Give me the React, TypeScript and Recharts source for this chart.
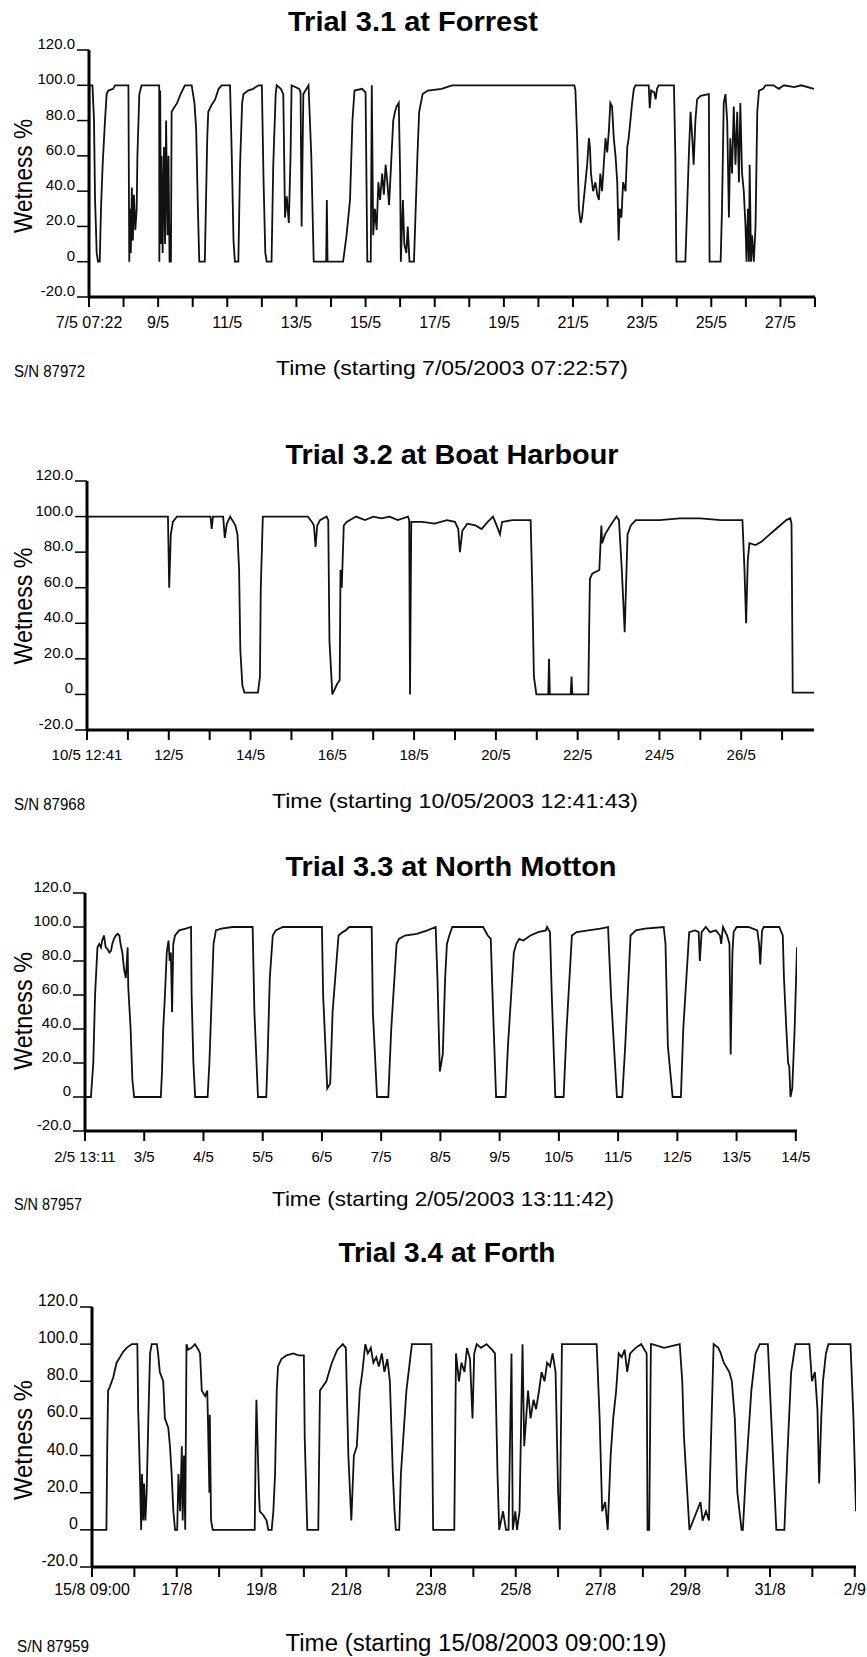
import { LineChart, Line, XAxis, YAxis } from "recharts";

// wetness readings: [days since start, wetness %]
const forrest: [number, number][] = [
  [0, 100], [0.005, 15], [0.012, 100], [0.1, 100], [0.145, 80], [0.175, 35], [0.2, 20], [0.222, 5],
  [0.26, 0], [0.31, 0], [0.347, 30], [0.395, 55], [0.463, 80], [0.51, 95], [0.56, 97], [0.7, 98],
  [0.75, 100], [1.14, 100], [1.165, 0], [1.19, 30], [1.21, 5], [1.24, 42], [1.27, 12], [1.3, 38],
  [1.34, 18], [1.38, 30], [1.4, 60], [1.456, 95], [1.52, 100], [2.03, 100], [2.035, 0], [2.06, 97],
  [2.08, 10], [2.1, 60], [2.13, 5], [2.17, 65], [2.2, 10], [2.23, 80], [2.27, 15], [2.3, 60],
  [2.33, 0], [2.37, 0], [2.39, 85], [2.45, 87], [2.55, 90], [2.65, 95], [2.75, 99], [2.78, 100],
  [2.97, 100], [3.05, 90], [3.1, 75], [3.15, 30], [3.19, 0], [3.35, 0], [3.42, 70], [3.45, 85],
  [3.55, 89], [3.65, 92], [3.75, 98], [3.84, 100], [4.08, 100], [4.13, 60], [4.18, 12], [4.22, 0],
  [4.32, 0], [4.37, 55], [4.43, 90], [4.47, 95], [4.6, 97], [4.75, 98], [4.9, 100], [5.0, 100],
  [5.05, 45], [5.1, 5], [5.14, 0], [5.28, 0], [5.33, 55], [5.4, 95], [5.43, 100], [5.55, 98],
  [5.62, 95], [5.67, 25], [5.72, 37], [5.78, 22], [5.83, 60], [5.86, 100], [6.08, 98], [6.12, 96],
  [6.15, 20], [6.2, 95], [6.35, 100], [6.43, 60], [6.5, 0], [6.86, 0], [6.88, 35], [6.9, 0],
  [7.35, 0], [7.45, 15], [7.55, 35], [7.62, 80], [7.68, 97], [7.9, 98], [8.0, 96], [8.05, 0],
  [8.15, 0], [8.18, 100], [8.22, 15], [8.27, 30], [8.32, 18], [8.37, 45], [8.42, 35], [8.48, 50],
  [8.53, 38], [8.58, 55], [8.63, 45], [8.68, 32], [8.75, 60], [8.8, 80], [8.85, 85], [8.9, 88],
  [8.96, 90], [9.0, 50], [9.02, 0], [9.08, 35], [9.12, 10], [9.18, 5], [9.22, 20], [9.27, 0],
  [9.4, 0], [9.45, 30], [9.5, 60], [9.55, 85], [9.65, 95], [9.8, 97], [10.2, 98], [10.5, 100],
  [14.04, 100], [14.07, 97], [14.12, 70], [14.17, 30], [14.22, 22], [14.26, 25], [14.31, 35],
  [14.36, 45], [14.41, 55], [14.46, 70], [14.49, 65], [14.52, 50], [14.58, 40], [14.65, 45],
  [14.7, 38], [14.75, 35], [14.79, 50], [14.84, 40], [14.89, 55], [14.94, 70], [14.99, 62],
  [15.04, 75], [15.08, 90], [15.13, 88], [15.18, 70], [15.23, 60], [15.28, 45], [15.32, 12],
  [15.35, 30], [15.4, 25], [15.45, 45], [15.52, 40], [15.57, 65], [15.61, 70], [15.66, 80],
  [15.71, 90], [15.76, 98], [15.81, 100], [16.19, 100], [16.22, 87], [16.26, 97], [16.35, 96],
  [16.39, 92], [16.43, 98], [16.48, 100], [16.92, 100], [16.96, 60], [16.99, 0], [17.25, 0],
  [17.3, 30], [17.35, 60], [17.4, 85], [17.45, 70], [17.49, 55], [17.54, 80], [17.59, 92],
  [17.69, 94], [17.93, 95], [17.95, 0], [18.27, 0], [18.31, 30], [18.36, 90], [18.41, 95],
  [18.46, 80], [18.51, 25], [18.55, 70], [18.6, 50], [18.65, 88], [18.7, 55], [18.75, 85],
  [18.8, 45], [18.84, 90], [18.89, 50], [18.94, 40], [18.99, 20], [19.02, 0], [19.06, 30],
  [19.09, 0], [19.11, 55], [19.15, 0], [19.18, 15], [19.23, 0], [19.28, 20], [19.33, 85],
  [19.38, 97], [19.5, 98], [19.57, 100], [19.8, 100], [19.95, 98], [20.1, 100], [20.4, 99],
  [20.6, 100], [20.97, 98],
];

const boatHarbour: [number, number][] = [
  [0, 0], [0.01, 100], [1.98, 100], [2.01, 60], [2.05, 90], [2.1, 97], [2.2, 100], [3.02, 100],
  [3.05, 93], [3.08, 100], [3.33, 100], [3.37, 88], [3.42, 96], [3.5, 100], [3.58, 97], [3.63, 95],
  [3.68, 90], [3.72, 70], [3.75, 25], [3.8, 5], [3.85, 1], [4.18, 1], [4.23, 10], [4.25, 60],
  [4.3, 100], [5.4, 100], [5.5, 97], [5.55, 95], [5.59, 83], [5.63, 95], [5.7, 98], [5.86, 100],
  [5.9, 98], [5.93, 30], [6.0, 0], [6.06, 3], [6.12, 6], [6.18, 8], [6.2, 70], [6.23, 60],
  [6.28, 95], [6.35, 97], [6.58, 100], [6.8, 98], [7.0, 100], [7.2, 99], [7.4, 100], [7.6, 98],
  [7.85, 100], [7.88, 98], [7.9, 0], [7.93, 97], [8.2, 97], [8.5, 96], [8.8, 98], [9.0, 97],
  [9.08, 93], [9.12, 80], [9.18, 92], [9.3, 96], [9.5, 95], [9.65, 93], [9.8, 97], [9.93, 100],
  [10.0, 96], [10.1, 90], [10.15, 97], [10.4, 98], [10.85, 98], [10.89, 60], [10.93, 10],
  [10.99, 0], [11.28, 0], [11.3, 20], [11.32, 0], [11.83, 0], [11.85, 10], [11.87, 0], [12.26, 0],
  [12.28, 35], [12.3, 65], [12.36, 68], [12.53, 70], [12.58, 95], [12.6, 85], [12.67, 90],
  [12.8, 95], [12.95, 100], [13.01, 98], [13.08, 70], [13.15, 35], [13.22, 90], [13.3, 95],
  [13.42, 98], [14.0, 98], [14.5, 99], [15.0, 99], [15.5, 98], [16.03, 98], [16.08, 70],
  [16.12, 40], [16.16, 75], [16.2, 85], [16.35, 84], [16.5, 86], [16.65, 89], [16.8, 92],
  [16.95, 95], [17.1, 98], [17.2, 99], [17.23, 96], [17.26, 1], [17.78, 1],
];

const northMotton: [number, number][] = [
  [0, 0], [0.1, 0], [0.12, 10], [0.14, 20], [0.17, 60], [0.21, 88], [0.24, 90], [0.27, 88],
  [0.29, 92], [0.32, 95], [0.35, 88], [0.38, 87], [0.41, 85], [0.44, 86], [0.46, 90], [0.49, 93],
  [0.52, 95], [0.55, 96], [0.58, 95], [0.6, 90], [0.63, 85], [0.66, 75], [0.69, 70], [0.72, 88],
  [0.73, 65], [0.77, 40], [0.8, 10], [0.83, 0], [1.28, 0], [1.3, 15], [1.32, 40], [1.35, 60],
  [1.38, 85], [1.41, 92], [1.43, 80], [1.45, 85], [1.47, 50], [1.49, 90], [1.52, 95], [1.59, 98],
  [1.7, 99], [1.79, 100], [1.8, 60], [1.83, 20], [1.86, 0], [2.07, 0], [2.1, 20], [2.14, 60],
  [2.17, 90], [2.21, 98], [2.3, 99], [2.49, 100], [2.83, 100], [2.86, 50], [2.92, 0], [3.06, 0],
  [3.08, 20], [3.12, 70], [3.17, 95], [3.22, 98], [3.34, 100], [4.0, 100], [4.02, 60], [4.09, 5],
  [4.14, 8], [4.18, 50], [4.28, 95], [4.35, 97], [4.4, 98], [4.46, 100], [4.84, 100], [4.86, 50],
  [4.93, 0], [5.12, 0], [5.17, 40], [5.26, 90], [5.3, 93], [5.4, 95], [5.6, 96], [5.78, 98],
  [5.92, 100], [5.95, 70], [5.99, 15], [6.04, 25], [6.08, 70], [6.11, 90], [6.15, 95], [6.2, 100],
  [6.72, 100], [6.8, 95], [6.85, 93], [6.88, 60], [6.94, 0], [7.1, 0], [7.14, 30], [7.24, 85],
  [7.28, 90], [7.33, 93], [7.4, 92], [7.52, 95], [7.65, 97], [7.78, 98], [7.8, 100], [7.85, 97],
  [7.88, 60], [7.94, 0], [8.08, 0], [8.13, 40], [8.22, 95], [8.3, 97], [8.5, 98], [8.7, 99],
  [8.83, 100], [8.88, 60], [8.98, 0], [9.07, 0], [9.12, 30], [9.21, 95], [9.3, 98], [9.45, 99],
  [9.77, 100], [9.8, 90], [9.84, 30], [9.92, 0], [10.06, 0], [10.1, 40], [10.2, 97], [10.3, 98],
  [10.36, 97], [10.38, 80], [10.41, 97], [10.48, 100], [10.55, 97], [10.65, 98], [10.72, 95],
  [10.74, 90], [10.77, 100], [10.84, 95], [10.88, 90], [10.9, 25], [10.93, 85], [10.95, 97],
  [11.0, 100], [11.2, 100], [11.35, 98], [11.38, 90], [11.4, 78], [11.43, 98], [11.46, 100],
  [11.72, 100], [11.78, 95], [11.8, 70], [11.84, 40], [11.87, 20], [11.89, 18], [11.91, 0],
  [11.94, 5], [11.98, 40], [12.02, 88],
];

const forth: [number, number][] = [
  [0, 0], [0.34, 0], [0.36, 45], [0.38, 75], [0.42, 77], [0.5, 82], [0.58, 90], [0.66, 93],
  [0.74, 96], [0.82, 98], [0.94, 100], [1.07, 100], [1.09, 65], [1.13, 30], [1.16, 0], [1.18, 30],
  [1.21, 5], [1.23, 25], [1.26, 5], [1.29, 20], [1.33, 60], [1.37, 95], [1.41, 100], [1.53, 100],
  [1.56, 95], [1.6, 85], [1.68, 80], [1.72, 60], [1.8, 55], [1.84, 45], [1.88, 30], [1.92, 10],
  [1.96, 0], [2.01, 0], [2.04, 30], [2.08, 10], [2.12, 45], [2.14, 5], [2.17, 40], [2.2, 0],
  [2.23, 100], [2.27, 97], [2.35, 98], [2.43, 100], [2.51, 97], [2.55, 95], [2.59, 75], [2.67, 72],
  [2.72, 75], [2.74, 55], [2.77, 20], [2.78, 62], [2.81, 5], [2.85, 0], [3.84, 0], [3.86, 40],
  [3.88, 70], [3.91, 45], [3.94, 20], [3.96, 10], [4.04, 8], [4.12, 5], [4.16, 0], [4.24, 0],
  [4.28, 10], [4.32, 30], [4.36, 75], [4.39, 88], [4.47, 92], [4.59, 94], [4.75, 95], [4.87, 94],
  [5.0, 94], [5.02, 50], [5.08, 0], [5.34, 0], [5.38, 75], [5.53, 80], [5.66, 90], [5.79, 97],
  [5.92, 100], [5.99, 98], [6.05, 40], [6.12, 5], [6.18, 40], [6.25, 45], [6.32, 75], [6.38, 85],
  [6.45, 100], [6.51, 95], [6.58, 98], [6.64, 90], [6.71, 93], [6.77, 88], [6.84, 95], [6.9, 85],
  [6.97, 92], [7.03, 80], [7.1, 30], [7.14, 10], [7.17, 0], [7.25, 0], [7.29, 30], [7.42, 75],
  [7.55, 100], [8.01, 100], [8.05, 0], [8.55, 0], [8.59, 95], [8.66, 80], [8.72, 90], [8.79, 85],
  [8.85, 98], [8.92, 92], [8.98, 60], [9.02, 95], [9.08, 100], [9.18, 98], [9.31, 100], [9.44, 97],
  [9.51, 95], [9.57, 30], [9.61, 0], [9.7, 10], [9.77, 0], [9.83, 0], [9.9, 95], [9.93, 0],
  [9.99, 10], [10.03, 0], [10.09, 10], [10.16, 100], [10.2, 45], [10.29, 75], [10.35, 60],
  [10.42, 70], [10.48, 65], [10.55, 75], [10.61, 85], [10.68, 80], [10.74, 90], [10.81, 88],
  [10.87, 95], [10.94, 85], [11.0, 20], [11.04, 0], [11.09, 100], [11.13, 100], [11.91, 100],
  [11.98, 60], [12.04, 10], [12.11, 15], [12.17, 0], [12.24, 40], [12.3, 60], [12.37, 75],
  [12.43, 95], [12.5, 93], [12.57, 97], [12.63, 85], [12.7, 95], [12.83, 98], [12.96, 100],
  [13.09, 95], [13.11, 0], [13.15, 0], [13.19, 100], [13.22, 100], [13.5, 98], [13.87, 100],
  [13.93, 80], [13.97, 50], [14.1, 0], [14.36, 15], [14.41, 5], [14.49, 10], [14.56, 5],
  [14.61, 50], [14.67, 100], [14.78, 98], [14.84, 95], [14.91, 90], [15.04, 85], [15.1, 80],
  [15.17, 60], [15.23, 20], [15.33, 0], [15.36, 0], [15.43, 30], [15.56, 75], [15.66, 95],
  [15.76, 100], [15.95, 100], [16.05, 50], [16.15, 0], [16.34, 0], [16.41, 40], [16.5, 85],
  [16.6, 100], [16.93, 100], [16.99, 80], [17.06, 85], [17.12, 65], [17.16, 25], [17.21, 60],
  [17.25, 80], [17.32, 95], [17.38, 100], [17.9, 100], [17.97, 60], [18.03, 10],
];

// one label per daily tick, "" where the tick is unlabelled
const forrestLabels = ["7/5 07:22", "", "9/5", "", "11/5", "", "13/5", "", "15/5", "", "17/5", "",
  "19/5", "", "21/5", "", "23/5", "", "25/5", "", "27/5", ""];
const boatLabels = ["10/5 12:41", "", "12/5", "", "14/5", "", "16/5", "", "18/5", "", "20/5", "",
  "22/5", "", "24/5", "", "26/5", ""];
const mottonLabels = ["2/5 13:11", "3/5", "4/5", "5/5", "6/5", "7/5", "8/5", "9/5", "10/5",
  "11/5", "12/5", "13/5", "14/5"];
const forthLabels = ["15/8 09:00", "", "17/8", "", "19/8", "", "21/8", "", "23/8", "", "25/8", "",
  "27/8", "", "29/8", "", "31/8", "", "2/9"];

const yTicks = [-20, 0, 20, 40, 60, 80, 100, 120];

const FONT = "'Liberation Sans', Arial, Helvetica, sans-serif";
const PAD_TOP = 25;

const panels = [
  {
    data: forrest, labels: forrestLabels, xMax: 21, left: 89, right: 815, top: 50, bottom: 297,
    tickFont: 16, yFont: 15, labelDy: 20.5,
    title: "Trial 3.1 at Forrest", titleX: 413, titleY: 31, titleLen: 250,
    sn: "S/N 87972", snX: 14, snY: 377, snLen: 71,
    time: "Time (starting 7/05/2003 07:22:57)", timeX: 452, timeY: 375, timeLen: 352, timeFont: 21,
    wetY: 176, wetLen: 114,
  },
  {
    data: boatHarbour, labels: boatLabels, xMax: 17.78, left: 87, right: 814, top: 481, bottom: 730,
    tickFont: 15, yFont: 15, labelDy: 20,
    title: "Trial 3.2 at Boat Harbour", titleX: 452, titleY: 464, titleLen: 333,
    sn: "S/N 87968", snX: 14, snY: 810, snLen: 71,
    time: "Time (starting 10/05/2003 12:41:43)", timeX: 455, timeY: 808, timeLen: 366, timeFont: 21,
    wetY: 606, wetLen: 117,
  },
  {
    data: northMotton, labels: mottonLabels, xMax: 12.02, left: 85, right: 797, top: 893, bottom: 1131,
    tickFont: 15, yFont: 15, labelDy: 21,
    title: "Trial 3.3 at North Motton", titleX: 451, titleY: 876, titleLen: 331,
    sn: "S/N 87957", snX: 14, snY: 1210, snLen: 68,
    time: "Time (starting 2/05/2003 13:11:42)", timeX: 443, timeY: 1206, timeLen: 342, timeFont: 21,
    wetY: 1011, wetLen: 118,
  },
  {
    data: forth, labels: forthLabels, xMax: 18.03, left: 92, right: 856, top: 1307, bottom: 1567,
    tickFont: 16, yFont: 16, labelDy: 18,
    title: "Trial 3.4 at Forth", titleX: 447, titleY: 1262, titleLen: 217,
    sn: "S/N 87959", snX: 17, snY: 1652, snLen: 72,
    time: "Time (starting 15/08/2003 09:00:19)", timeX: 476, timeY: 1651, timeLen: 381, timeFont: 23,
    wetY: 1440, wetLen: 120,
  },
];

type Panel = (typeof panels)[number];

function WetnessPanel({ p }: { p: Panel }) {
  const rows = p.data.map(([t, w]) => ({ t, w }));
  const height = p.bottom - p.top + PAD_TOP + 40;

  const xTick = (props: any) => {
    const label = p.labels[props.payload.value] ?? "";
    if (!label) return <g />;
    return (
      <text x={props.x} y={props.y} dy={p.labelDy} textAnchor="middle" fontSize={p.tickFont}
        fontFamily={FONT} fill="#000">
        {label}
      </text>
    );
  };

  const yTick = (props: any) => {
    const v = props.payload.value;
    return (
      <text x={props.x} y={props.y} dy={-1} textAnchor="end" fontSize={p.yFont}
        fontFamily={FONT} fill="#000">
        {v === 0 ? "0" : v.toFixed(1)}
      </text>
    );
  };

  return (
    <div style={{ position: "absolute", left: 0, top: p.top - PAD_TOP }}>
      <LineChart width={867} height={height} data={rows}
        margin={{ top: PAD_TOP, right: 867 - p.right, bottom: 0, left: 0 }}>
        <XAxis type="number" dataKey="t" domain={[0, p.xMax]} allowDataOverflow
          ticks={p.labels.map((_, i) => i)} interval={0} height={40}
          axisLine={{ stroke: "#000", strokeWidth: 3 }}
          tickLine={{ stroke: "#000", strokeWidth: 2 }} tickSize={10} tickMargin={0} tick={xTick} />
        <YAxis type="number" domain={[-20, 120]} allowDataOverflow ticks={yTicks} interval={0}
          width={p.left} axisLine={{ stroke: "#000", strokeWidth: 3 }}
          tickLine={{ stroke: "#000", strokeWidth: 1.5 }} tickSize={12} tickMargin={2} tick={yTick} />
        <Line type="linear" dataKey="w" stroke="#111" strokeWidth={1.8} dot={false}
          isAnimationActive={false} />
      </LineChart>
    </div>
  );
}

export default function App() {
  return (
    <div style={{ position: "absolute", left: 0, top: 0, width: 867, height: 1657, background: "#fff" }}>
      {panels.map((p) => (
        <WetnessPanel key={p.title} p={p} />
      ))}
      <svg width={867} height={1657} style={{ position: "absolute", left: 0, top: 0, pointerEvents: "none" }}
        fontFamily={FONT}>
        {panels.map((p) => (
          <g key={p.title}>
            <text x={p.titleX} y={p.titleY} textAnchor="middle" fontSize={28} fontWeight="bold"
              textLength={p.titleLen} lengthAdjust="spacingAndGlyphs">
              {p.title}
            </text>
            <text x={p.snX} y={p.snY} fontSize={16} textLength={p.snLen} lengthAdjust="spacingAndGlyphs">
              {p.sn}
            </text>
            <text x={p.timeX} y={p.timeY} textAnchor="middle" fontSize={p.timeFont}
              textLength={p.timeLen} lengthAdjust="spacingAndGlyphs">
              {p.time}
            </text>
            <text transform={`translate(32, ${p.wetY}) rotate(-90)`} textAnchor="middle" fontSize={25}
              textLength={p.wetLen} lengthAdjust="spacingAndGlyphs">
              Wetness  %
            </text>
          </g>
        ))}
      </svg>
    </div>
  );
}
